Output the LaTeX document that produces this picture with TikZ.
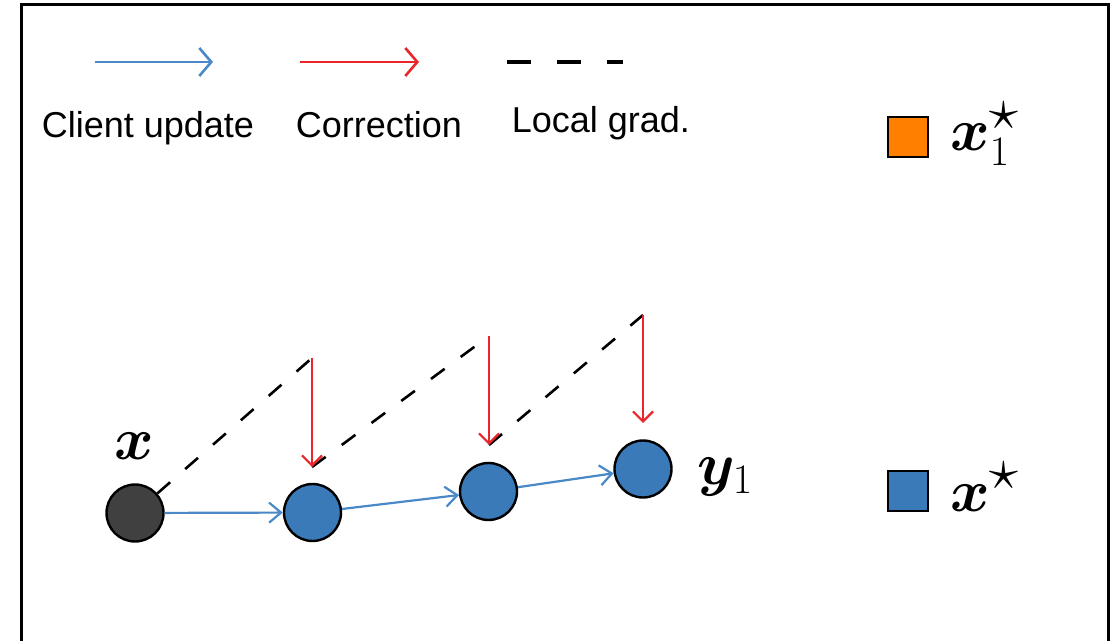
\documentclass[tikz,border=0pt]{standalone}
\usepackage{fix-cm}
\usepackage{amsmath,bm,graphicx}
\usepackage{fontspec}
\setmainfont{Liberation Sans}
\usetikzlibrary{arrows.meta}
\definecolor{cblue}{HTML}{3A7AB8}
\definecolor{ablue}{HTML}{4A88C7}
\definecolor{cred}{HTML}{E8262B}
\definecolor{corange}{HTML}{FF8000}
\definecolor{cdark}{HTML}{404040}
\newcommand{\bstar}{\scalebox{1.4}{$\scriptstyle\star$}}
\begin{document}
\begin{tikzpicture}[x=0.5pt,y=-0.5pt,
  pnt/.style={circle,draw=black,line width=1.2pt,minimum size=28.5pt,inner sep=0pt},
  upd/.style={ablue,line width=1.1pt,-{Straight Barb[length=6pt,width=10pt,line width=1.1pt]}},
  corr/.style={cred,line width=1.1pt,-{Straight Barb[length=5pt,width=10pt,line width=1.1pt]}},
  legupd/.style={ablue,line width=1.3pt,-{Straight Barb[length=6pt,width=14pt,line width=1.3pt]}},
  legcorr/.style={cred,line width=1.3pt,-{Straight Barb[length=6pt,width=14pt,line width=1.3pt]}},
  grad/.style={black,line width=1.3pt,dash pattern=on 8.5pt off 10pt},
  leggrad/.style={black,line width=2pt,dash pattern=on 12pt off 13pt},
  lbl/.style={font=\fontsize{18}{20}\selectfont,anchor=base,inner sep=0pt},
  mlbl/.style={font=\fontsize{30}{36}\selectfont,inner sep=0pt},
  sq/.style={draw=black,line width=1.2pt,minimum size=20pt,inner sep=0pt}]
\useasboundingbox (0,0) rectangle (1114,641);
\draw[line width=1.5pt] (21,650) -- (21,5) -- (1108,5) -- (1108,650);
% legend
\coordinate (lb1) at (95,62); \coordinate (lb2) at (213,62);
\coordinate (lr1) at (300,62); \coordinate (lr2) at (419,62);
\coordinate (lg1) at (507,62); \coordinate (lg2) at (623,62);
\draw[legupd] (lb1) -- (lb2);
\draw[legcorr] (lr1) -- (lr2);
\draw[leggrad] (lg1) -- (lg2);
\node[lbl] (l1) at (148,138) {Client update};
\node[lbl] (l2) at (379,138) {Correction};
\node[lbl] (l3) at (601,133) {Local grad.};
\node[sq,fill=corange] (s1) at (908,137) {};
\node[sq,fill=cblue] (s2) at (908,491) {};
\node[mlbl,anchor=base west] (m1) at (950,151) {$\bm{x}_1^{\bstar}$};
\node[mlbl,anchor=base west] (m2) at (950,511) {$\bm{x}^{\bstar}$};
% diagram
\node[pnt,fill=cdark] (x0) at (135,513) {};
\node[pnt,fill=cblue] (x1) at (312.5,512.5) {};
\node[pnt,fill=cblue] (x2) at (488.5,491.5) {};
\node[pnt,fill=cblue] (x3) at (643,469) {};
\node[mlbl,anchor=base] (mx) at (134,460) {$\bm{x}$};
\node[mlbl,anchor=base west] (my) at (697,485) {$\bm{y}_1$};
\coordinate (t1) at (312,358); \coordinate (h1) at (312,467);
\coordinate (t2) at (489,336); \coordinate (h2) at (489,445);
\coordinate (t3) at (643,315); \coordinate (h3) at (643,423);
\draw[grad] (x0) -- (t1);
\draw[grad] (h1) -- (t2);
\draw[grad] (h2) -- (t3);
\draw[corr] (t1) -- (h1);
\draw[corr] (t2) -- (h2);
\draw[corr] (t3) -- (h3);
\draw[upd] (x0) -- (x1);
\draw[upd] (x1) -- (x2);
\draw[upd] (x2) -- (x3);
\end{tikzpicture}
\end{document}
